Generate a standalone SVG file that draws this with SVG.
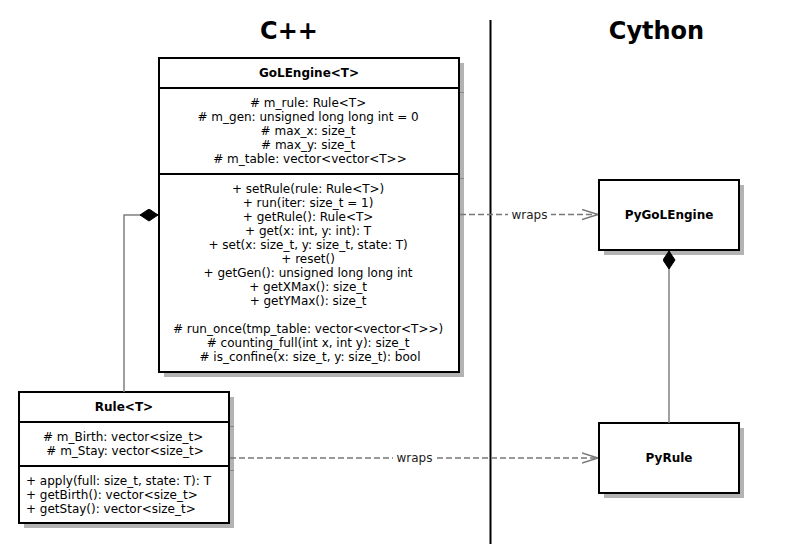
<svg xmlns="http://www.w3.org/2000/svg" width="807" height="557" viewBox="0 0 807 557">
<style>
text{font-family:"DejaVu Sans",Verdana,sans-serif;font-size:12px;fill:#000}
.b{font-weight:bold}
.t{font-weight:bold;font-size:24px}
.c{text-anchor:middle}
.box{fill:#fff;stroke:#000;stroke-width:2}
.sh{fill:#b3b3b3}
.div{stroke:#000;stroke-width:2}
.shl{stroke:#888;stroke-width:1}
.conn{fill:none;stroke:#808080;stroke-width:1.5}
.dash{fill:none;stroke:#777;stroke-width:1.7;stroke-dasharray:6 3}
.lbl{fill:#222}
</style>
<defs>
<marker id="open" viewBox="0 0 16 12" refX="16" refY="6" markerWidth="16" markerHeight="12" markerUnits="userSpaceOnUse" orient="auto">
<path d="M0,1 L16,6 L0,11" fill="none" stroke="#777" stroke-width="1.5"/>
</marker>
<marker id="dia" viewBox="0 0 18 13" refX="18" refY="6.5" markerWidth="18" markerHeight="13" markerUnits="userSpaceOnUse" orient="auto">
<path d="M0,6.5 L9,0.5 L18,6.5 L9,12.5 Z" fill="#000" stroke="#000" stroke-width="1"/>
</marker>
</defs>
<rect width="807" height="557" fill="#fff"/>
<g id="titles">
<text class="t c" x="289" y="39">C++</text>
<text class="t c" x="656.5" y="39">Cython</text>
</g>
<g id="separator">
<line x1="490.5" y1="20" x2="490.5" y2="544" stroke="#000" stroke-width="2"/>
</g>
<g id="GoLEngine">
<rect class="sh" x="164" y="63" width="300" height="314"/>
<line class="shl" x1="460" y1="92.5" x2="464" y2="92.5"/>
<line class="shl" x1="460" y1="178.5" x2="464" y2="178.5"/>
<rect class="box" x="159" y="58" width="300" height="314"/>
<line class="div" x1="159" y1="88" x2="459" y2="88"/>
<line class="div" x1="159" y1="174" x2="459" y2="174"/>
<text class="b c" x="309" y="77">GoLEngine&lt;T&gt;</text>
<text class="c" x="310" y="107">
<tspan x="310" y="107"># m_rule: Rule&lt;T&gt;</tspan>
<tspan x="310" y="121"># m_gen: unsigned long long int = 0</tspan>
<tspan x="310" y="135"># max_x: size_t</tspan>
<tspan x="310" y="149"># max_y: size_t</tspan>
<tspan x="310" y="163"># m_table: vector&lt;vector&lt;T&gt;&gt;</tspan>
</text>
<text class="c" x="310" y="193">
<tspan x="310" y="193">+ setRule(rule: Rule&lt;T&gt;)</tspan>
<tspan x="310" y="207">+ run(iter: size_t = 1)</tspan>
<tspan x="310" y="221">+ getRule(): Rule&lt;T&gt;</tspan>
<tspan x="310" y="235">+ get(x: int, y: int): T</tspan>
<tspan x="310" y="249">+ set(x: size_t, y: size_t, state: T)</tspan>
<tspan x="310" y="263">+ reset()</tspan>
<tspan x="310" y="277">+ getGen(): unsigned long long int</tspan>
<tspan x="310" y="291">+ getXMax(): size_t</tspan>
<tspan x="310" y="305">+ getYMax(): size_t</tspan>
<tspan x="310" y="333"># run_once(tmp_table: vector&lt;vector&lt;T&gt;&gt;)</tspan>
<tspan x="310" y="347"># counting_full(int x, int y): size_t</tspan>
<tspan x="310" y="361"># is_confine(x: size_t, y: size_t): bool</tspan>
</text>
</g>
<g id="Rule">
<rect class="sh" x="24" y="397" width="210" height="131"/>
<line class="shl" x1="230" y1="426.5" x2="234" y2="426.5"/>
<line class="shl" x1="230" y1="470.5" x2="234" y2="470.5"/>
<rect class="box" x="19" y="392" width="210" height="131"/>
<line class="div" x1="19" y1="422" x2="229" y2="422"/>
<line class="div" x1="19" y1="466" x2="229" y2="466"/>
<text class="b c" x="124" y="411">Rule&lt;T&gt;</text>
<text class="c" x="125" y="441">
<tspan x="125" y="441"># m_Birth: vector&lt;size_t&gt;</tspan>
<tspan x="125" y="455"># m_Stay: vector&lt;size_t&gt;</tspan>
</text>
<text x="26" y="485">
<tspan x="26" y="485">+ apply(full: size_t, state: T): T</tspan>
<tspan x="26" y="499">+ getBirth(): vector&lt;size_t&gt;</tspan>
<tspan x="26" y="513">+ getStay(): vector&lt;size_t&gt;</tspan>
</text>
</g>
<g id="PyGoLEngine">
<rect class="sh" x="604" y="185" width="140" height="70"/>
<rect class="box" x="599" y="180" width="140" height="70"/>
<text class="b c" x="669" y="219">PyGoLEngine</text>
</g>
<g id="PyRule">
<rect class="sh" x="604" y="428" width="140" height="70"/>
<rect class="box" x="599" y="423" width="140" height="70"/>
<text class="b c" x="669" y="462">PyRule</text>
</g>
<g id="connectors">
<path class="conn" d="M124,392 V215 H158" marker-end="url(#dia)"/>
<path class="conn" d="M669,423 V251" marker-end="url(#dia)"/>
<path class="dash" d="M460,214.5 H598" marker-end="url(#open)"/>
<rect x="508" y="206" width="43" height="17" fill="#fff"/>
<text class="lbl c" x="529.5" y="219">wraps</text>
<path class="dash" d="M230,458 H598" marker-end="url(#open)"/>
<rect x="393" y="450" width="43" height="17" fill="#fff"/>
<text class="lbl c" x="414.5" y="462">wraps</text>
</g>
</svg>
